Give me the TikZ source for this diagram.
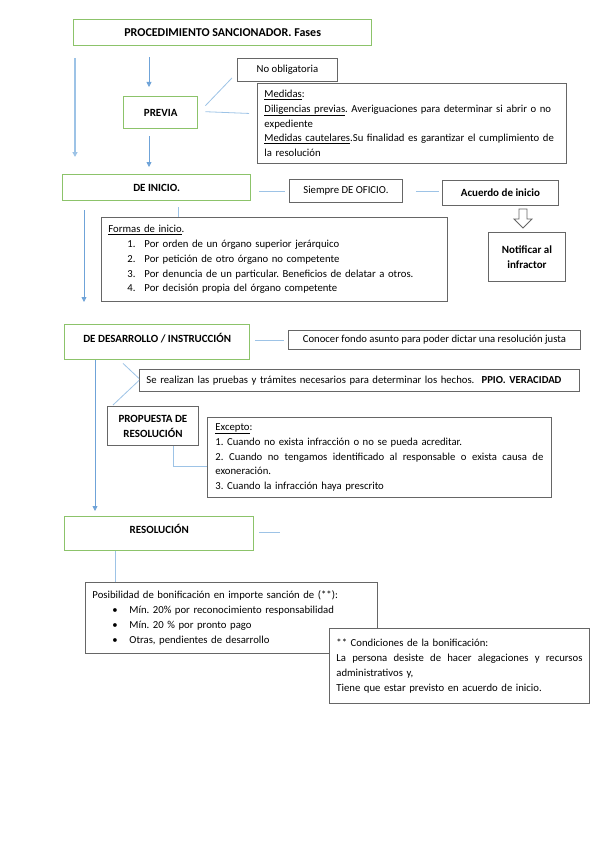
\documentclass[tikz,border=0pt]{standalone}
\usepackage{fontspec}
\setmainfont{Carlito}
\usepackage{tikz}
\usetikzlibrary{calc, arrows.meta}
\definecolor{boxgreen}{HTML}{8CC36A}
\definecolor{arrblue}{HTML}{6FA3D8}
\definecolor{lineblue}{HTML}{9DC3E6}
\newcommand{\fitem}[2]{\hspace*{19pt}\makebox[17pt][l]{#1}#2}
\newcommand{\bitem}[1]{\hspace*{20pt}\makebox[17pt][l]{\textbullet}#1}
\newcommand{\jline}[2]{\makebox[#1][s]{\spaceskip=.25em plus 2em\relax #2}}
\frenchspacing

\begin{document}
\begin{tikzpicture}[x=1pt, y=-1pt,
	phase/.style={draw=boxgreen, line width=1.4pt, rectangle, anchor=north west, inner sep=0pt, align=center, font=\bfseries\fontsize{11}{15}\selectfont},
	note/.style={draw=black!60, line width=.9pt, fill=white, rectangle, anchor=north west, inner sep=0pt, align=center, font=\fontsize{10.7}{15}\selectfont},
	boldnote/.style={note, font=\bfseries\fontsize{11}{15}\selectfont},
	textnote/.style={note, align=left, inner xsep=7pt, inner ysep=3pt, font=\fontsize{10.7}{14.8}\selectfont},
	arr/.style={draw=arrblue, line width=.8pt, -{Triangle[length=5pt,width=5pt]}},
	conn/.style={draw=lineblue, line width=.8pt}]
	\useasboundingbox (0,0) rectangle (599,848);
	% fases
	\node[phase, minimum width=298pt, minimum height=26pt, font=\bfseries\fontsize{12}{15}\selectfont] (title) at (73,19) {PROCEDIMIENTO SANCIONADOR. Fases};
	\node[phase, minimum width=74pt, minimum height=32pt] (previa) at (123,96) {PREVIA};
	\node[phase, minimum width=188pt, minimum height=26pt] (inicio) at (62,174) {DE INICIO.};
	\node[phase, minimum width=185pt, minimum height=35pt, text depth=9pt] (des) at (64,324) {DE DESARROLLO / INSTRUCCIÓN};
	\node[phase, minimum width=189pt, minimum height=34pt, text depth=9pt] (resol) at (64,516) {RESOLUCIÓN};
	% cuadros
	\node[note, minimum width=100pt, minimum height=23pt] (noobl) at (237,58) {No obligatoria};
	\node[textnote, text width=295pt, minimum height=80pt] (medidas) at (257,83) {\underline{Medidas}:\\
		\underline{Diligencias previas}. Averiguaciones para determinar si abrir o no\\
		expediente\\
		\underline{Medidas cautelares}.Su finalidad es garantizar el cumplimiento de\\
		la resolución};
	\node[note, minimum width=113pt, minimum height=23pt] (siempre) at (289,179) {Siempre DE OFICIO.};
	\node[boldnote, minimum width=116pt, minimum height=25pt] (acuerdo) at (442,180) {Acuerdo de inicio};
	\node[boldnote, minimum width=77pt, minimum height=49pt] (notif) at (488,232) {Notificar al\\infractor};
	\node[textnote, text width=332pt, minimum height=84pt] (formas) at (101,217) {\underline{Formas de inicio}.\\
		\fitem{1.}{Por orden de un órgano superior jerárquico}\\
		\fitem{2.}{Por petición de otro órgano no competente}\\
		\fitem{3.}{Por denuncia de un particular. Beneficios de delatar a otros.}\\
		\fitem{4.}{Por decisión propia del órgano competente}};
	\node[note, minimum width=292pt, minimum height=19pt] (conocer) at (288,330) {Conocer fondo asunto para poder dictar una resolución justa};
	\node[textnote, text width=426pt, minimum height=22pt] (pruebas) at (139,369) {Se realizan las pruebas y trámites necesarios para determinar los hechos. \ \textbf{PPIO. VERACIDAD}};
	\node[boldnote, minimum width=91pt, minimum height=39pt] (propuesta) at (107,406) {PROPUESTA DE\\RESOLUCIÓN};
	\node[textnote, text width=328pt, minimum height=80pt, inner xsep=8pt] (excepto) at (207,417) {\underline{Excepto}:\\
		1. Cuando no exista infracción o no se pueda acreditar.\\
		\jline{328pt}{2. Cuando no tengamos identificado al responsable o exista causa de}\\
		exoneración.\\
		3. Cuando la infracción haya prescrito};
	\node[textnote, text width=278pt, minimum height=71pt] (bonif) at (85,582) {Posibilidad de bonificación en importe sanción de (**):\\
		\bitem{Mín. 20\% por reconocimiento responsabilidad}\\
		\bitem{Mín. 20 \% por pronto pago}\\
		\bitem{Otras, pendientes de desarrollo}};
	\node[textnote, text width=246pt, minimum height=75pt] (condic) at (329,628) {** Condiciones de la bonificación:\\
		\jline{246pt}{La persona desiste de hacer alegaciones y recursos}\\
		administrativos y,\\
		Tiene que estar previsto en acuerdo de inicio.};
	% flechas
	\coordinate (p1) at ($(previa.north west)+(26,0)$);
	\coordinate (p2) at ($(inicio.south west)+(22,0)$);
	\coordinate (p3) at ($(des.south west)+(31,0)$);
	\draw[arr, draw=lineblue, line width=1.3pt, shorten >=17pt] ($(title.south west)+(2,12)$) coordinate (p0) -- (p0 |- inicio.north);
	\draw[arr, shorten <=11pt, shorten >=9pt] (p1 |- title.south) -- (p1);
	\draw[arr, shorten <=7pt, shorten >=7pt] (p1 |- previa.south) -- (p1 |- inicio.north);
	\draw[arr, shorten <=9pt, shorten >=22pt] (p2) -- (p2 |- des.north);
	\draw[arr, shorten >=5pt] (p3) -- (p3 |- resol.north);
	% lineas
	\draw[conn] ($(previa.east)+(7,-7)$) -- ($(noobl.south west)+(-5,-4)$);
	\draw[conn] ($(previa.east)+(7,-1)$) -- ($(medidas.west)+(-8,-10)$);
	\draw[conn] ($(inicio.east |- siempre.west)+(8,0)$) -- ($(siempre.west)+(-4,0)$);
	\draw[conn] ($(siempre.east)+(13,0)$) -- ($(acuerdo.west |- siempre.east)+(-3,0)$);
	\draw[conn] ($(inicio.south)+(22,6)$) coordinate (f1) -- (f1 |- formas.north);
	\draw[conn] ($(des.east |- conocer.west)+(5,0)$) -- ($(conocer.west)+(-4,0)$);
	\draw[conn] ($(des.south west)+(59,3)$) -- ($(pruebas.west)+(0,-2)$);
	\draw[conn] (pruebas.west) -- ($(propuesta.north west)+(6,-1)$);
	\draw[conn] ($(propuesta.south)+(20,0)$) |- ($(excepto.west)+(0,9)$);
	\draw[conn] ($(resol.east)+(5,-1)$) coordinate (r1) -- ++(21,0);
	\draw[conn] ($(resol.south west)+(51,0)$) coordinate (r2) -- (r2 |- bonif.north);
	% flecha hueca
	\coordinate (tip) at ($(notif.north)+(-4,-4)$);
	\draw[black!60, line width=.8pt, fill=white] (tip) -- ++(-9,-9) -- ++(5,0) -- ++(0,-10) -- ++(8,0) -- ++(0,10) -- ++(5,0) -- cycle;
\end{tikzpicture}
\end{document}
